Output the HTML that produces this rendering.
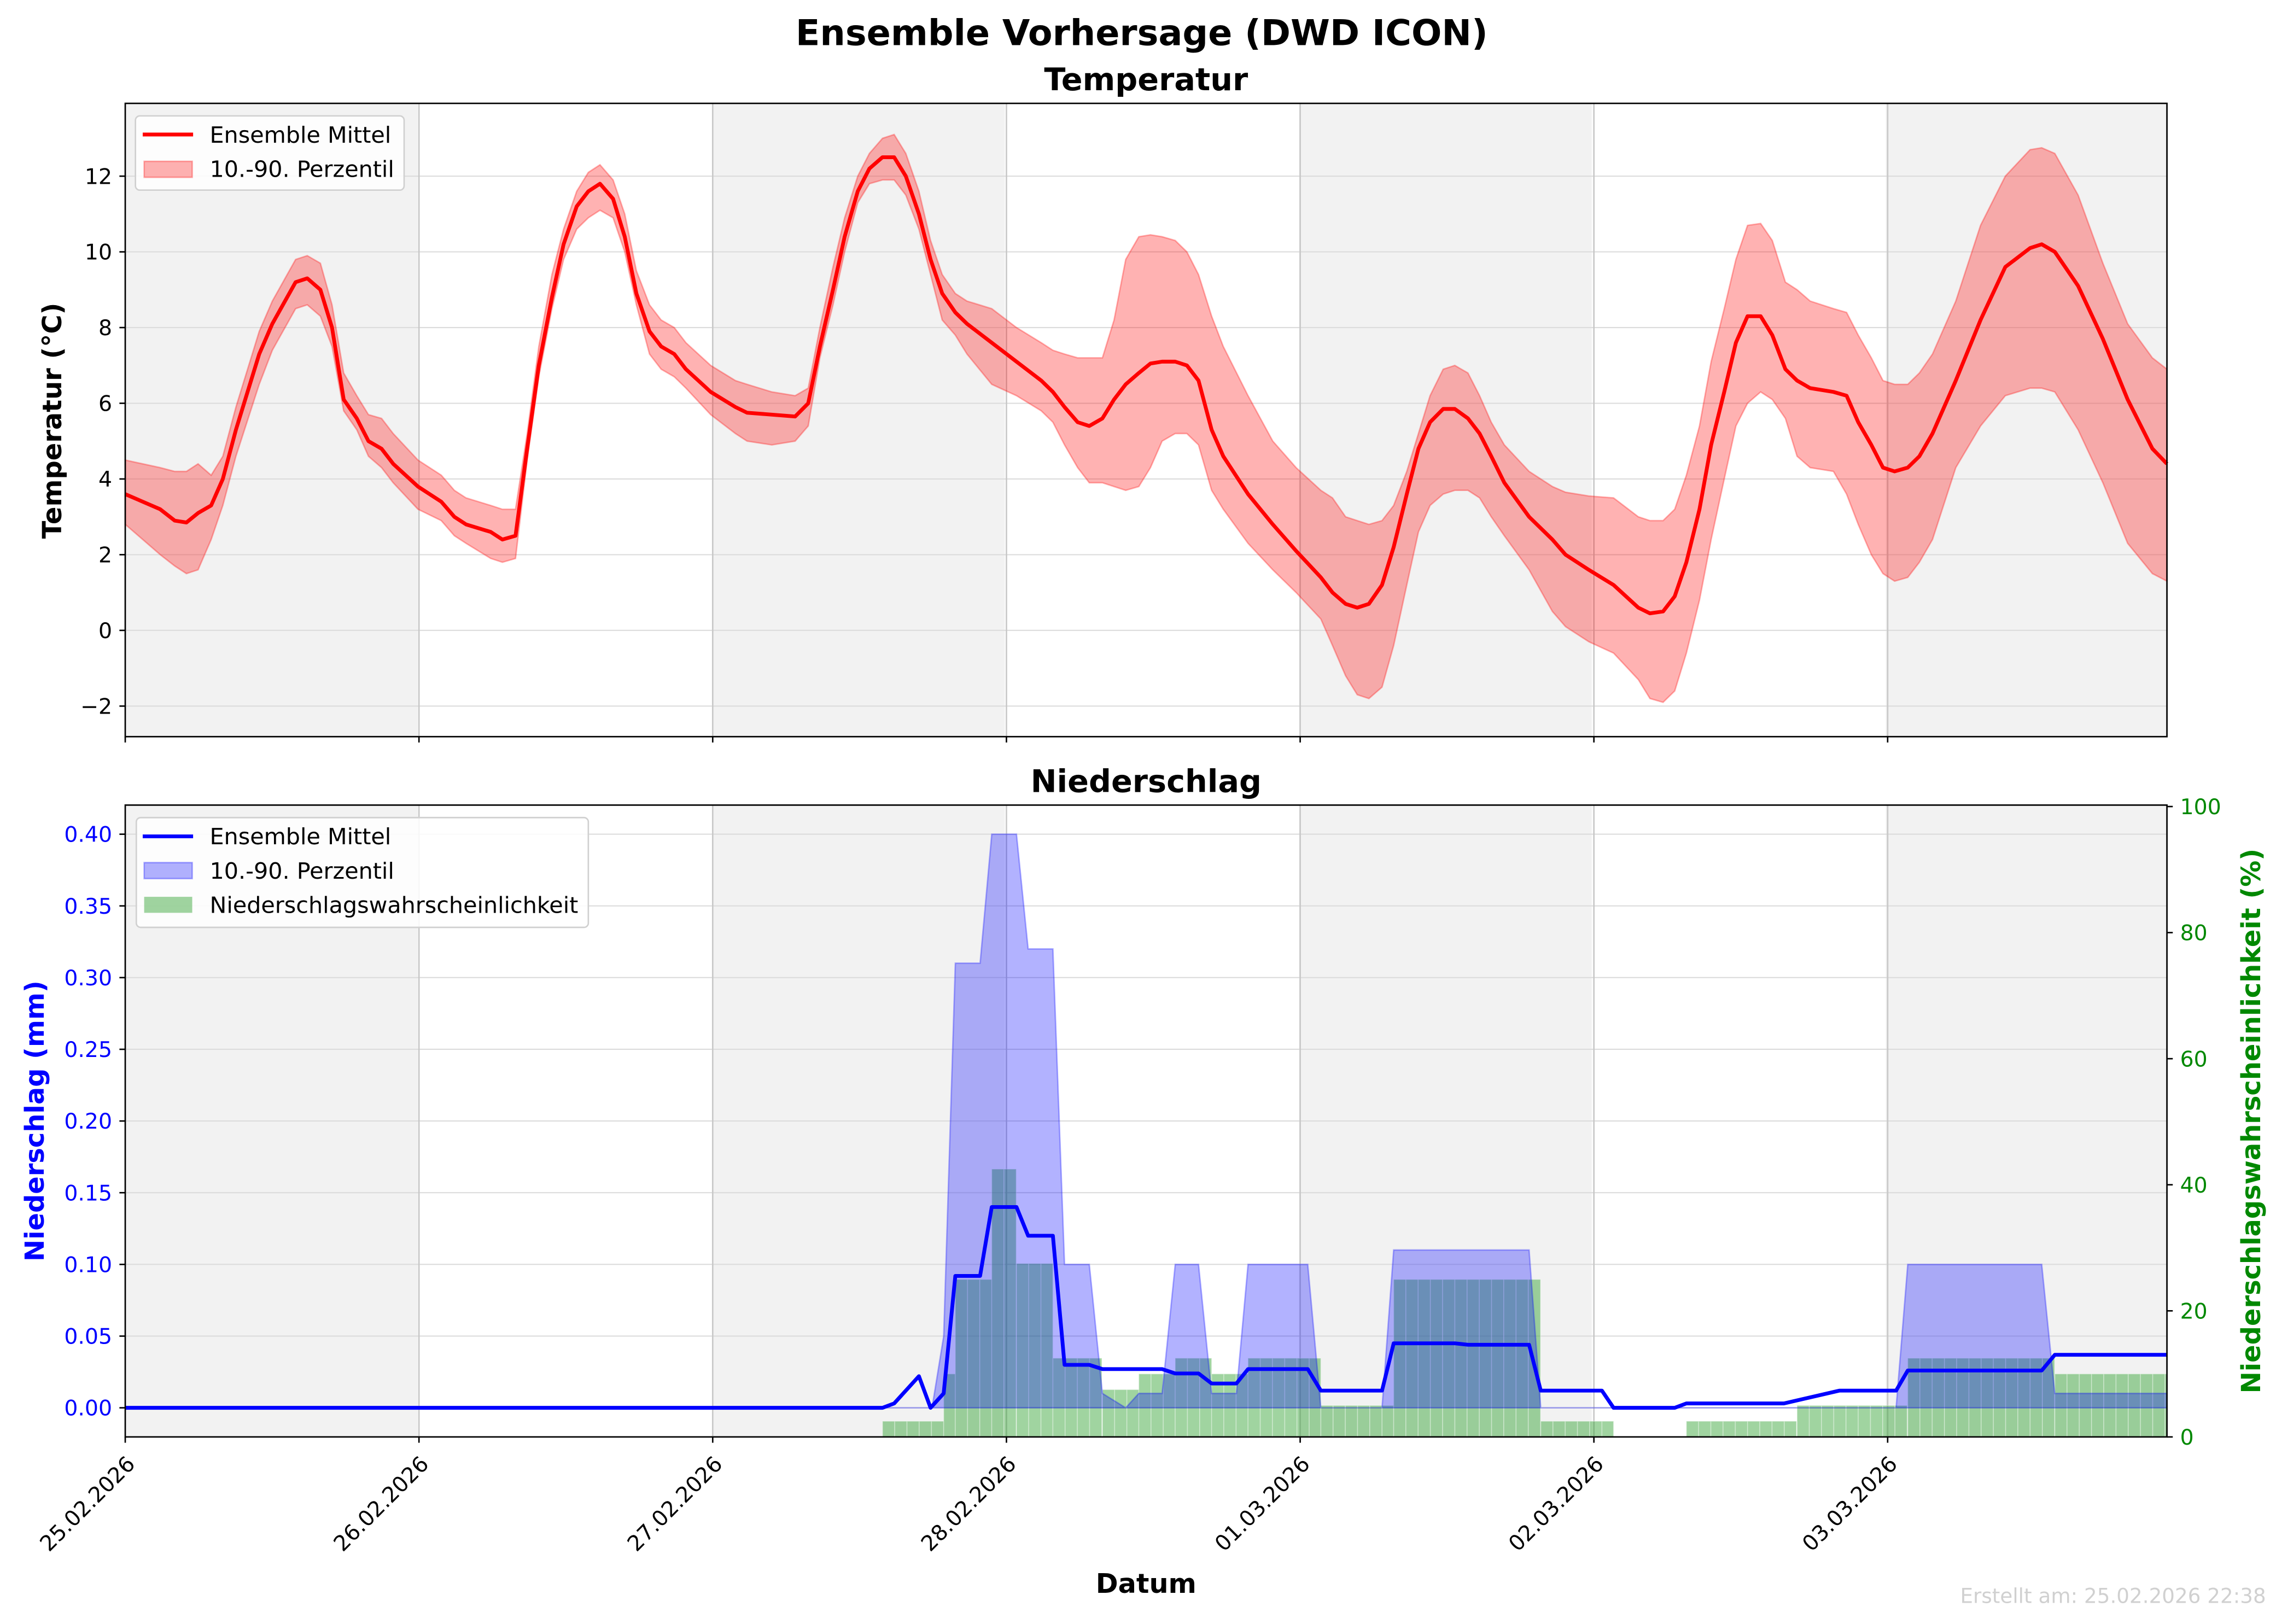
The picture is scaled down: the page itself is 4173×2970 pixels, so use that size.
<!DOCTYPE html>
<html><head><meta charset="utf-8"><style>
html,body{margin:0;padding:0;background:#fff}
svg{display:block}
text{font-family:"DejaVu Sans","Liberation Sans",sans-serif}
</style></head><body>
<svg id="s" width="4173" height="2970" viewBox="0 0 1567 1115.5" preserveAspectRatio="none" xmlns="http://www.w3.org/2000/svg">
<rect width="1567" height="1116" fill="#fff"/>
<g id="g"></g>
</svg>
<script>
const g=document.getElementById('g');
let h='';
const X0=86,X1=1488,DAY=201.7;
[[86,287],[489,690],[892,1093],[1295,1488]].forEach(([a,b])=>{
 h+=`<rect x="${a}" y="71" width="${b-a}" height="435" fill="#f2f2f2"/>`;
 h+=`<rect x="${a}" y="553" width="${b-a}" height="434" fill="#f2f2f2"/>`;
});
const ty=T=>433-26*T;
for(let T=-2;T<=12;T+=2) h+=`<line x1="86" x2="1488" y1="${ty(T)}" y2="${ty(T)}" stroke="#dcdcdc" stroke-width="0.8"/>`;
const py=v=>967-985*v;
for(let v=0;v<=0.401;v+=0.05) h+=`<line x1="86" x2="1488" y1="${py(v)}" y2="${py(v)}" stroke="#dcdcdc" stroke-width="0.8"/>`;
for(let i=1;i<7;i++){const x=X0+i*DAY;
 h+=`<line x1="${x}" x2="${x}" y1="71" y2="506" stroke="#c8c8c8" stroke-width="1"/>`;
 h+=`<line x1="${x}" x2="${x}" y1="553" y2="987" stroke="#c8c8c8" stroke-width="1"/>`;}
const D=[[86,3.6,2.8,4.5],[110,3.2,2.0,4.3],[120,2.9,1.7,4.2],[128,2.85,1.5,4.2],[136,3.1,1.6,4.4],[145,3.3,2.4,4.1],[153,4.0,3.3,4.6],[162,5.3,4.6,5.9],[178,7.3,6.5,7.9],[187,8.1,7.4,8.7],[203,9.2,8.5,9.8],[211,9.3,8.6,9.9],[220,9.0,8.3,9.7],[228,8.0,7.5,8.6],[236,6.1,5.8,6.8],[245,5.6,5.3,6.2],[253,5.0,4.6,5.7],[262,4.8,4.3,5.6],[270,4.4,3.9,5.2],[287,3.8,3.2,4.5],[303,3.4,2.9,4.1],[312,3.0,2.5,3.7],[320,2.8,2.3,3.5],[337,2.6,1.9,3.3],[345,2.4,1.8,3.2],[354,2.5,1.9,3.2],[362,4.8,4.5,5.2],[370,7.0,6.7,7.5],[379,8.8,8.5,9.4],[387,10.2,9.8,10.6],[396,11.2,10.6,11.6],[404,11.6,10.9,12.1],[412,11.8,11.1,12.3],[421,11.4,10.9,11.9],[429,10.4,10.0,11.0],[437,8.9,8.6,9.5],[446,7.9,7.3,8.6],[454,7.5,6.9,8.2],[463,7.3,6.7,8.0],[471,6.9,6.4,7.6],[488,6.3,5.7,7.0],[505,5.9,5.2,6.6],[513,5.75,5.0,6.5],[530,5.7,4.9,6.3],[546,5.65,5.0,6.2],[555,6.0,5.4,6.4],[563,7.5,7.2,8.0],[572,9.0,8.6,9.6],[580,10.4,10.0,10.9],[589,11.6,11.3,12.0],[597,12.2,11.8,12.6],[606,12.5,11.9,13.0],[614,12.5,11.9,13.1],[622,12.0,11.5,12.6],[631,11.0,10.6,11.6],[639,9.8,9.4,10.3],[647,8.9,8.2,9.4],[656,8.4,7.8,8.9],[664,8.1,7.3,8.7],[681,7.6,6.5,8.5],[698,7.1,6.2,8.0],[715,6.6,5.8,7.6],[723,6.3,5.5,7.4],[731,5.9,4.9,7.3],[740,5.5,4.3,7.2],[748,5.4,3.9,7.2],[757,5.6,3.9,7.2],[765,6.1,3.8,8.2],[773,6.5,3.7,9.8],[782,6.8,3.8,10.4],[790,7.05,4.3,10.45],[798,7.1,5.0,10.4],[807,7.1,5.2,10.3],[815,7.0,5.2,10.0],[823,6.6,4.9,9.4],[832,5.3,3.7,8.3],[840,4.6,3.2,7.5],[857,3.6,2.3,6.2],[874,2.8,1.6,5.0],[890,2.1,1.0,4.3],[907,1.4,0.3,3.7],[915,1.0,-0.4,3.5],[924,0.7,-1.2,3.0],[932,0.6,-1.7,2.9],[940,0.7,-1.8,2.8],[949,1.2,-1.5,2.9],[957,2.2,-0.4,3.3],[966,3.6,1.2,4.2],[974,4.8,2.6,5.2],[982,5.5,3.3,6.2],[991,5.85,3.6,6.9],[999,5.85,3.7,7.0],[1008,5.6,3.7,6.8],[1016,5.2,3.5,6.2],[1024,4.6,3.0,5.5],[1033,3.9,2.5,4.9],[1050,3.0,1.6,4.2],[1066,2.4,0.5,3.8],[1075,2.0,0.1,3.65],[1091,1.6,-0.3,3.55],[1108,1.2,-0.6,3.5],[1125,0.6,-1.3,3.0],[1133,0.45,-1.8,2.9],[1142,0.5,-1.9,2.9],[1150,0.9,-1.6,3.2],[1158,1.8,-0.6,4.1],[1167,3.2,0.8,5.4],[1175,4.9,2.4,7.1],[1184,6.3,4.0,8.5],[1192,7.6,5.4,9.8],[1200,8.3,6.0,10.7],[1209,8.3,6.3,10.75],[1217,7.8,6.1,10.3],[1226,6.9,5.6,9.2],[1234,6.6,4.6,9.0],[1243,6.4,4.3,8.7],[1259,6.3,4.2,8.5],[1268,6.2,3.6,8.4],[1276,5.5,2.8,7.8],[1285,4.9,2.0,7.2],[1293,4.3,1.5,6.6],[1301,4.2,1.3,6.5],[1310,4.3,1.4,6.5],[1318,4.6,1.8,6.8],[1327,5.2,2.4,7.3],[1343,6.6,4.3,8.7],[1360,8.2,5.4,10.7],[1377,9.6,6.2,12.0],[1394,10.1,6.4,12.7],[1402,10.2,6.4,12.75],[1411,10.0,6.3,12.6],[1427,9.1,5.3,11.5],[1444,7.7,3.9,9.7],[1461,6.1,2.3,8.1],[1478,4.8,1.5,7.2],[1488,4.4,1.3,6.9]];
let band=D.map(d=>`${d[0]},${ty(d[3]).toFixed(1)}`).concat(D.slice().reverse().map(d=>`${d[0]},${ty(d[2]).toFixed(1)}`));
h+=`<polygon points="${band.join(' ')}" fill="#ff0000" fill-opacity="0.3" stroke="#ff0000" stroke-opacity="0.3" stroke-width="1"/>`;
h+=`<polyline points="${D.map(d=>d[0]+','+ty(d[1]).toFixed(1)).join(' ')}" fill="none" stroke="#ff0000" stroke-width="2.6" stroke-linejoin="round"/>`;
const ry=p=>987-4.33*p;
const B=[[606,648,2.5],[648,656,10],[656,681,25],[681,698,42.5],[698,723,27.5],[723,757,12.5],[757,782,7.5],[782,807,10],[807,832,12.5],[832,857,10],[857,907,12.5],[907,957,5],[957,1058,25],[1058,1108,2.5],[1158,1234,2.5],[1234,1310,5],[1310,1411,12.5],[1411,1488,10]];
const dx=DAY/24;
B.forEach(([a,b,p])=>{for(let x=a;x<b-1;x+=dx){const w=Math.min(dx,b-x);
 h+=`<rect x="${x.toFixed(2)}" y="${ry(p).toFixed(1)}" width="${w.toFixed(2)}" height="${(987-ry(p)).toFixed(1)}" fill="#2ca02c" fill-opacity="0.45" stroke="#ffffff" stroke-opacity="0.35" stroke-width="0.6"/>`;}});
const U=[[86,0],[640,0],[648,0.05],[656,0.31],[673,0.31],[681,0.40],[698,0.40],[706,0.32],[723,0.32],[731,0.10],[748,0.10],[757,0.01],[773,0],[782,0.01],[798,0.01],[807,0.10],[823,0.10],[832,0.01],[849,0.01],[857,0.10],[898,0.10],[907,0],[949,0],[957,0.11],[1050,0.11],[1058,0],[1302,0],[1310,0.10],[1402,0.10],[1411,0.01],[1488,0.01]];
h+=`<polygon points="${U.map(d=>d[0]+','+py(d[1]).toFixed(1)).join(' ')} 1488,${py(0)} 86,${py(0)}" fill="#0000ff" fill-opacity="0.3" stroke="#0000ff" stroke-opacity="0.3" stroke-width="1"/>`;
const M=[[86,0],[606,0],[614,0.003],[631,0.022],[639,0.0],[648,0.01],[656,0.092],[673,0.092],[681,0.14],[698,0.14],[706,0.12],[723,0.12],[731,0.03],[748,0.03],[757,0.027],[798,0.027],[807,0.024],[823,0.024],[832,0.017],[849,0.017],[857,0.027],[898,0.027],[907,0.012],[949,0.012],[957,0.045],[999,0.045],[1008,0.044],[1050,0.044],[1058,0.012],[1100,0.012],[1108,0],[1150,0],[1158,0.003],[1225,0.003],[1263,0.012],[1302,0.012],[1310,0.026],[1402,0.026],[1411,0.037],[1488,0.037]];
h+=`<polyline points="${M.map(d=>d[0]+','+py(d[1]).toFixed(1)).join(' ')}" fill="none" stroke="#0000ff" stroke-width="2.6" stroke-linejoin="round"/>`;
h+=`<rect x="86" y="71" width="1402" height="435" fill="none" stroke="#000" stroke-width="1"/>`;
h+=`<rect x="86" y="553" width="1402" height="434" fill="none" stroke="#000" stroke-width="1"/>`;
const FS=14.8;
for(let T=-2;T<=12;T+=2){const y=ty(T);h+=`<line x1="82" x2="86" y1="${y}" y2="${y}" stroke="#000"/><text x="77" y="${y+5.3}" font-size="${FS}" text-anchor="end">${T<0?'−'+(-T):T}</text>`;}
for(let i=0;i<=8;i++){const v=i*0.05,y=py(v);h+=`<line x1="82" x2="86" y1="${y}" y2="${y}" stroke="#000"/><text x="77" y="${y+5.3}" font-size="${FS}" text-anchor="end" fill="#00f">${v.toFixed(2)}</text>`;}
for(let p=0;p<=100;p+=20){const y=ry(p);h+=`<line x1="1488" x2="1492" y1="${y}" y2="${y}" stroke="#000"/><text x="1497" y="${y+5.3}" font-size="${FS}" fill="#080">${p}</text>`;}
const labs=['25.02.2026','26.02.2026','27.02.2026','28.02.2026','01.03.2026','02.03.2026','03.03.2026'];
for(let i=0;i<7;i++){const x=X0+i*DAY;
 h+=`<line x1="${x}" x2="${x}" y1="506" y2="510" stroke="#000"/><line x1="${x}" x2="${x}" y1="987" y2="991" stroke="#000"/>`;
 h+=`<text transform="translate(${x},${999}) rotate(-45)" font-size="${FS}" text-anchor="end" dy="0.72em">${labs[i]}</text>`;}
h+=`<text x="784" y="31" font-size="24.5" font-weight="bold" text-anchor="middle">Ensemble Vorhersage (DWD ICON)</text>`;
h+=`<text x="787" y="62" font-size="21.5" font-weight="bold" text-anchor="middle">Temperatur</text>`;
h+=`<text x="787" y="544" font-size="21.5" font-weight="bold" text-anchor="middle">Niederschlag</text>`;
h+=`<text x="787" y="1094" font-size="18.5" font-weight="bold" text-anchor="middle">Datum</text>`;
h+=`<text transform="translate(42,289) rotate(-90)" font-size="18" font-weight="bold" text-anchor="middle">Temperatur (°C)</text>`;
h+=`<text transform="translate(30,770) rotate(-90)" font-size="18" font-weight="bold" text-anchor="middle" fill="#00f">Niederschlag (mm)</text>`;
h+=`<text transform="translate(1552,770) rotate(-90)" font-size="18" font-weight="bold" text-anchor="middle" fill="#080">Niederschlagswahrscheinlichkeit (%)</text>`;
h+=`<text x="1556" y="1101" font-size="14" text-anchor="end" fill="#d0d0d0">Erstellt am: 25.02.2026 22:38</text>`;
const LF=15.5;
h+=`<rect x="93" y="79.6" width="184.5" height="51" rx="3" fill="#fff" fill-opacity="0.85" stroke="#d0d0d0"/>`;
h+=`<line x1="98" x2="132.6" y1="92.4" y2="92.4" stroke="#f00" stroke-width="2.6"/><text x="144" y="98" font-size="${LF}">Ensemble Mittel</text>`;
h+=`<rect x="99" y="110.8" width="33" height="11" fill="#ff0000" fill-opacity="0.3" stroke="#ff0000" stroke-opacity="0.3"/><text x="144" y="121.5" font-size="${LF}">10.-90. Perzentil</text>`;
h+=`<rect x="93.6" y="561.6" width="310.4" height="75.4" rx="3" fill="#fff" fill-opacity="0.85" stroke="#d0d0d0"/>`;
h+=`<line x1="98" x2="132.6" y1="574.5" y2="574.5" stroke="#00f" stroke-width="2.6"/><text x="144" y="580" font-size="${LF}">Ensemble Mittel</text>`;
h+=`<rect x="99" y="592.5" width="33" height="11" fill="#0000ff" fill-opacity="0.3" stroke="#0000ff" stroke-opacity="0.3"/><text x="144" y="603.5" font-size="${LF}">10.-90. Perzentil</text>`;
h+=`<rect x="99" y="616" width="33" height="11" fill="#2ca02c" fill-opacity="0.45"/><text x="144" y="627" font-size="${LF}">Niederschlagswahrscheinlichkeit</text>`;
g.innerHTML=h;
</script>
</body></html>
